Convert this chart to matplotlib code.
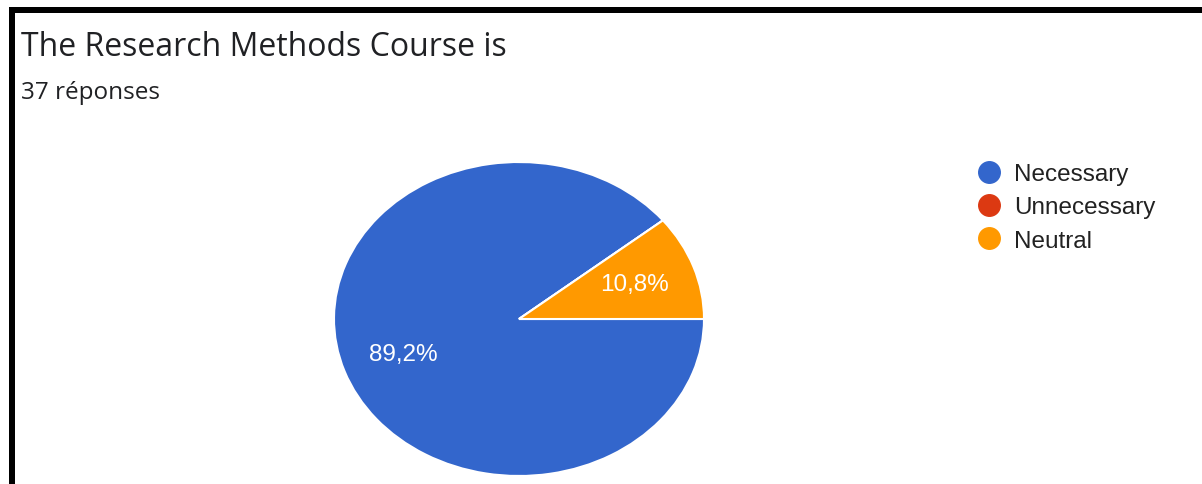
import matplotlib.pyplot as plt
from matplotlib.patches import Rectangle
from matplotlib.lines import Line2D

title = 'The Research Methods Course is'
subtitle = '37 réponses'
labels = ['Necessary', 'Unnecessary', 'Neutral']
counts = [33, 0, 4]
colors = ['#3366cc', '#dc3912', '#ff9900']

W, H = 1202, 485
fig = plt.figure(figsize=(W / 100, H / 100), dpi=100)
fig.patch.set_facecolor('white')

# black frame on top and left
fig.add_artist(Rectangle((9 / W, 0), 6 / W, (H - 8) / H, transform=fig.transFigure,
                         facecolor='black', edgecolor='none'))
fig.add_artist(Rectangle((9 / W, (H - 14) / H), (W - 9) / W, 6 / H, transform=fig.transFigure,
                         facecolor='black', edgecolor='none'))

fig.text(21 / W, (H - 47) / H, title, fontsize=23, family='Open Sans', color='#202124', va='center')
fig.text(21 / W, (H - 93) / H, subtitle, fontsize=17.5, family='Open Sans', color='#202124', va='center')

# pie (stretched horizontally like the source)
cx, cy, rx, ry = 519, 320, 185, 157
ax = fig.add_axes([(cx - rx) / W, (H - cy - ry) / H, 2 * rx / W, 2 * ry / H])


def pct(p):
    return ('%.1f%%' % p).replace('.', ',') if p > 0 else ''


wedges, texts, autotexts = ax.pie(counts, colors=colors, startangle=0, counterclock=False,
                                  autopct=pct, pctdistance=0.665,
                                  wedgeprops=dict(edgecolor='white', linewidth=1.5),
                                  textprops=dict(color='white', fontsize=17.5, family='Liberation Sans'))
ax.set_aspect('auto')
ax.set_xlim(-1, 1)
ax.set_ylim(-1, 1)

handles = [Line2D([], [], marker='o', linestyle='none', markersize=15.5,
                  markerfacecolor=c, markeredgecolor=c) for c in colors]
leg = fig.legend(handles, labels, loc='upper left', bbox_to_anchor=(975 / W, (H - 164) / H),
                 frameon=False, labelspacing=0.47, handletextpad=0.45,
                 handlelength=1.15, borderpad=0, borderaxespad=0,
                 prop=dict(family='Liberation Sans', size=17.5))
for t in leg.get_texts():
    t.set_color('#222222')

fig.savefig('out.png', dpi=100, facecolor='white')
